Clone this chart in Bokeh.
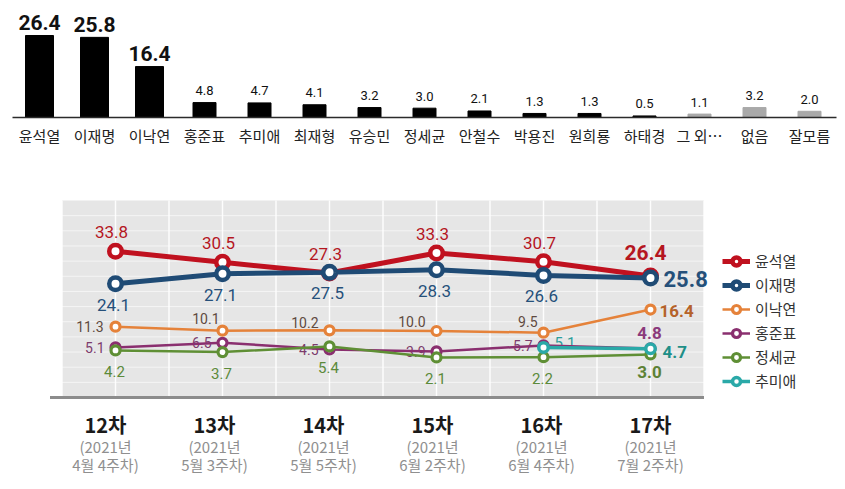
import numpy as np
from bokeh.plotting import figure
from bokeh.layouts import column
from bokeh.models import Range1d, ColumnDataSource, Legend, LegendItem
from bokeh.core.properties import value
from bokeh.embed import file_html
from bokeh.resources import INLINE

# ---------------- data ----------------
# 17차 조사: 차기 대통령 선호도 (%)
candidates = ["윤석열", "이재명", "이낙연", "홍준표", "추미애", "최재형", "유승민",
              "정세균", "안철수", "박용진", "원희룡", "하태경", "그 외…", "없음", "잘모름"]
support = [26.4, 25.8, 16.4, 4.8, 4.7, 4.1, 3.2, 3.0, 2.1, 1.3, 1.3, 0.5, 1.1, 3.2, 2.0]

# 추이 (12차 ~ 17차)
rounds = ["12차", "13차", "14차", "15차", "16차", "17차"]
round_years = ["(2021년", "(2021년", "(2021년", "(2021년", "(2021년", "(2021년"]
round_weeks = ["4월 4주차)", "5월 3주차)", "5월 5주차)", "6월 2주차)", "6월 4주차)", "7월 2주차)"]

yoon = [33.8, 30.5, 27.3, 33.3, 30.7, 26.4]
lee_jm = [24.1, 27.1, 27.5, 28.3, 26.6, 25.8]
lee_ny = [11.3, 10.1, 10.2, 10.0, 9.5, 16.4]
hong = [5.1, 6.5, 4.5, 3.9, 5.7, 4.8]
chung = [4.2, 3.7, 5.4, 2.1, 2.2, 3.0]
choo_rounds = ["16차", "17차"]
choo = [5.1, 4.7]

N_TOP = 3      # leading candidates get large value labels
N_NAMED = 12   # named candidates drawn black, the rest gray

NUM_FONT = value("Roboto")
KR_FONT = value("Noto Sans CJK KR")

# ---------------- top: bar chart ----------------
W = 845
H1 = 170
bar_x0, bar_dx = 39, 55          # px of first bar centre, px per bar
base_px, bar_scale = 117, 3.106  # baseline px, px per percent

p1 = figure(width=W, height=H1, output_backend="svg", toolbar_location=None,
            x_range=Range1d(-bar_x0 / bar_dx, (W - bar_x0) / bar_dx),
            y_range=Range1d(-(H1 - base_px) / bar_scale, base_px / bar_scale),
            min_border=0)
p1.axis.visible = False
p1.grid.visible = False
p1.outline_line_color = None

idx = list(range(len(candidates)))
p1.vbar(x=idx[:N_TOP], top=support[:N_TOP], width=28 / bar_dx, color="#000000")
p1.vbar(x=idx[N_TOP:N_NAMED], top=support[N_TOP:N_NAMED], width=23 / bar_dx, color="#000000")
p1.vbar(x=idx[N_NAMED:], top=support[N_NAMED:], width=23 / bar_dx, color="#a9a9a9")

p1.segment(x0=[(12 - bar_x0) / bar_dx], x1=[(836 - bar_x0) / bar_dx], y0=[0], y1=[0],
           line_color="#2b2b2b", line_width=1.5)

p1.text(x=idx[:N_TOP], y=support[:N_TOP], text=[f"{v:.1f}" for v in support[:N_TOP]],
        text_font=NUM_FONT, text_font_style="bold", text_font_size="21px",
        text_color="#111111", text_align="center", text_baseline="middle", y_offset=-13)
p1.text(x=idx[N_TOP:], y=support[N_TOP:], text=[f"{v:.1f}" for v in support[N_TOP:]],
        text_font=NUM_FONT, text_font_size="13px",
        text_color="#111111", text_align="center", text_baseline="middle", y_offset=-12)
p1.text(x=idx, y=[0] * len(idx), text=candidates, text_font=KR_FONT, text_font_size="15px",
        text_color="#222222", text_align="center", text_baseline="middle", y_offset=18)

# ---------------- bottom: trend lines ----------------
H2 = 319
x0, dx = 115, 107        # px of first round, px per round
zero_px, scale = 194, 3.35

p2 = figure(width=W, height=H2, output_backend="svg", toolbar_location=None,
            x_range=Range1d(-x0 / dx, (W - x0) / dx),
            y_range=Range1d((zero_px - H2) / scale, zero_px / scale),
            min_border=0)
p2.axis.visible = False
p2.grid.visible = False
p2.outline_line_color = None

y_top = (zero_px - 30) / scale
y_bot = (zero_px - 227) / scale
n = len(rounds)
rx = list(range(n))

# panel background with grid
p2.quad(left=[-0.5], right=[n - 0.5], bottom=[y_bot], top=[y_top],
        fill_color="#e6e6e6", line_color=None)
vx = np.arange(-0.5, n - 0.5 + 0.01, 0.5)
p2.segment(x0=vx, x1=vx, y0=[y_bot] * len(vx), y1=[y_top] * len(vx),
           line_color="#ffffff", line_width=1.5, line_alpha=0.9)
hy = np.linspace(y_top, y_bot, 14)[1:-1]
p2.segment(x0=[-0.5] * len(hy), x1=[n - 0.5] * len(hy), y0=hy, y1=hy,
           line_color="#ffffff", line_width=1, line_alpha=0.6)
p2.segment(x0=[-0.5 - 12 / dx], x1=[n - 0.5], y0=[y_bot], y1=[y_bot],
           line_color="#8c8c8c", line_width=3)

# round labels below the panel (the label row is spaced slightly wider than the points)
lab_shift = [-10, -8, -6, -4, -2, 0]
round_src = ColumnDataSource(dict(x=rx, y=[y_bot] * n, r=rounds, yr=round_years,
                                  wk=round_weeks, xo=lab_shift))
p2.text(x="x", y="y", text="r", x_offset="xo", source=round_src, text_font=KR_FONT,
        text_font_style="bold", text_font_size="20px", text_color="#1a1a1a",
        text_align="center", text_baseline="middle", y_offset=27)
p2.text(x="x", y="y", text="yr", x_offset="xo", source=round_src, text_font=KR_FONT,
        text_font_size="15px", text_color="#8f8f8f", text_align="center",
        text_baseline="middle", y_offset=49)
p2.text(x="x", y="y", text="wk", x_offset="xo", source=round_src, text_font=KR_FONT,
        text_font_size="15px", text_color="#8f8f8f", text_align="center",
        text_baseline="middle", y_offset=67)

choo_x = [rounds.index(r) for r in choo_rounds]

series = [
    # name, x, y, line colour, line width, marker size, ring width
    dict(name="윤석열", x=rx, y=yoon, color="#c0111f", lw=5, size=12.5, ring=4.5,
         lab=dict(color="#b5161f", size="17px", align="center", xo=[-4] * 5, yo=[-19] * 5),
         last=dict(color="#b5161f", size="21px", align="center", xo=-5, yo=-24)),
    dict(name="이재명", x=rx, y=lee_jm, color="#1f4b75", lw=5, size=12.5, ring=4.5,
         lab=dict(color="#25507a", size="17px", align="center", xo=[-2] * 5, yo=[21] * 5),
         last=dict(color="#25507a", size="22px", align="left", xo=13, yo=1)),
    dict(name="이낙연", x=rx, y=lee_ny, color="#e5823a", lw=2.5, size=9, ring=3.2,
         lab=dict(color="#5f4a40", size="14px", align="right",
                  xo=[-12, -3, -11, -11, -6], yo=[0, -12, -8, -10, -11]),
         last=dict(color="#b5622a", size="17px", align="left", xo=9, yo=1)),
    dict(name="홍준표", x=rx, y=hong, color="#8a2f6f", lw=2.5, size=9, ring=3.2,
         lab=dict(color="#7c3b6c", size="14px", align="right", xo=[-11] * 5, yo=[0] * 5),
         last=dict(color="#8b3a7c", size="17px", align="center", xo=-1, yo=-15)),
    dict(name="정세균", x=rx, y=chung, color="#5f8f35", lw=2.5, size=9, ring=3.2,
         lab=dict(color="#5b8a3a", size="15px", align="center", xo=[-1] * 5, yo=[21] * 5),
         last=dict(color="#5d8236", size="17px", align="center", xo=-1, yo=18)),
    dict(name="추미애", x=choo_x, y=choo, color="#2aa9a8", lw=3.5, size=9.5, ring=3.5,
         lab=dict(color="#2b9e9b", size="15px", align="left", xo=[11], yo=[-5]),
         last=dict(color="#1f8f88", size="17px", align="left", xo=12, yo=3)),
]

# value labels (under the lines)
for s in series:
    lab, last = s["lab"], s["last"]
    src = ColumnDataSource(dict(x=s["x"][:-1], y=s["y"][:-1],
                                t=[f"{v:.1f}" for v in s["y"][:-1]],
                                xo=lab["xo"], yo=lab["yo"]))
    p2.text(x="x", y="y", text="t", x_offset="xo", y_offset="yo", source=src,
            text_font=NUM_FONT, text_font_size=lab["size"], text_color=lab["color"],
            text_align=lab["align"], text_baseline="middle")
    p2.text(x=[s["x"][-1]], y=[s["y"][-1]], text=[f"{s['y'][-1]:.1f}"],
            x_offset=last["xo"], y_offset=last["yo"],
            text_font=NUM_FONT, text_font_style="bold", text_font_size=last["size"],
            text_color=last["color"], text_align=last["align"], text_baseline="middle")

# lines and markers; small series first so the leaders sit on top
draw_order = ["홍준표", "정세균", "이낙연", "추미애", "윤석열", "이재명"]
renderers = {}
for name in draw_order:
    s = next(d for d in series if d["name"] == name)
    ln = p2.line(s["x"], s["y"], line_color=s["color"], line_width=s["lw"])
    pt = p2.scatter(s["x"], s["y"], marker="circle", size=s["size"], fill_color="white",
                    line_color=s["color"], line_width=s["ring"])
    renderers[name] = [ln, pt]

legend = Legend(items=[LegendItem(label=s["name"], renderers=renderers[s["name"]])
                       for s in series],
                location=(722, 98), orientation="vertical",
                glyph_width=28, glyph_height=20, label_height=20, spacing=3,
                label_standoff=5, padding=0, margin=0,
                label_text_font="Noto Sans CJK KR", label_text_font_size="15px",
                label_text_color="#333333",
                border_line_color=None, background_fill_alpha=0)
p2.add_layout(legend)

layout = column(p1, p2, spacing=0)
open("out.html", "w").write(file_html(layout, INLINE))
